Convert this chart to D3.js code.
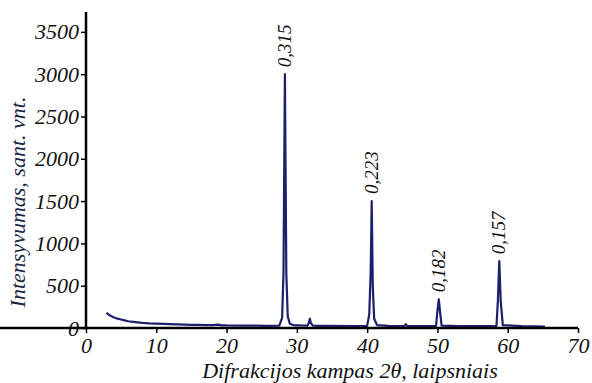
<!DOCTYPE html>
<html><head><meta charset="utf-8">
<script src="https://cdn.jsdelivr.net/npm/d3@7"></script>
<style>html,body{margin:0;padding:0;background:#fff;}svg{display:block;}
text{font-family:"Liberation Serif","Times New Roman",serif;font-style:italic;}</style>
</head><body><div id="chart"></div>
<script>
// ---- data ----
const angle = [2.9,3.2,3.6,4.0,4.5,5.0,5.5,6.0,7.0,8.0,9.0,10.0,11.0,12.0,13.0,14.0,15.0,16.0,17.0,18.0,18.8,19.0,19.3,20.0,22.0,24.0,26.0,27.5,27.9,28.1,28.3,28.5,28.7,29.0,29.5,30.5,31.5,31.7,31.85,32.0,32.3,33.0,35.0,38.0,40.0,40.3,40.5,40.65,40.8,41.0,41.4,43.0,45.3,45.5,45.7,48.0,49.8,50.0,50.2,50.4,50.6,53.0,56.0,58.4,58.6,58.8,59.0,59.3,62.0,65.3];
const intensity = [180,160,140,125,110,100,90,80,70,60,55,52,48,45,42,40,38,36,34,33,40,36,32,30,28,27,26,28,120,650,3000,650,140,50,35,30,28,60,110,55,28,25,24,23,25,160,650,1500,500,110,35,24,23,45,23,22,26,200,340,170,28,22,22,26,320,790,320,35,22,18];
const peakPos = [28.3, 40.65, 50.2, 58.8];
const peakVal = [3000, 1500, 340, 790];
const peakLabels = ["0,315", "0,223", "0,182", "0,157"];
const xTicks = [0,10,20,30,40,50,60,70];
const yTicks = [0,500,1000,1500,2000,2500,3000,3500];
const xTitle = "Difrakcijos kampas 2θ, laipsniais";
const yTitle = "Intensyvumas, sant. vnt.";

const W = 592, H = 383;
const svg = d3.select("#chart").append("svg").attr("width", W).attr("height", H)
  .attr("font-family", "Liberation Serif");
const x = d3.scaleLinear().domain([0,70]).range([86,578]);
const y = d3.scaleLinear().domain([0,3735]).range([328,12]);

// spectrum line
const pts = angle.map((a,i)=>[a,intensity[i]]);
svg.append("path").datum(pts)
  .attr("fill","none").attr("stroke","#1e1e6e").attr("stroke-width",2.2)
  .attr("stroke-linejoin","round")
  .attr("d", d3.line().x(d=>x(d[0])).y(d=>y(d[1])));

// axes
const xAxis = svg.append("g").attr("transform","translate(0,328)")
  .call(d3.axisBottom(x).tickValues(xTicks).tickSize(5).tickPadding(4).tickFormat(d3.format("d")));
const yAxis = svg.append("g").attr("transform","translate(86,0)")
  .call(d3.axisLeft(y).tickValues(yTicks).tickSize(5).tickPadding(2).tickFormat(d3.format("d")));
[xAxis,yAxis].forEach(g=>{
  g.attr("font-family", null);
  g.select(".domain").attr("stroke","#000").attr("stroke-width",2.5);
  g.selectAll(".tick line").attr("stroke","#000").attr("stroke-width",1.5);
  g.selectAll("text").attr("fill","#111").style("font-size","22px");
});
yAxis.select(".domain").attr("d","M0,12V328");
xAxis.select(".domain").attr("d","M0,0H578");

// peak labels
svg.selectAll(".pk").data(peakPos).enter().append("text")
  .attr("transform",(d,i)=>`translate(${x(d)+6},${y(peakVal[i])-7}) rotate(-90)`)
  .attr("text-anchor","start")
  .style("font-size","19px")
  .attr("fill","#111")
  .text((d,i)=>peakLabels[i]);

// titles
svg.append("text").attr("x",350).attr("y",378).attr("text-anchor","middle")
  .style("font-size","22px")
  .attr("fill","#111").text(xTitle);
svg.append("text").attr("transform","translate(25,202) rotate(-90)").attr("text-anchor","middle")
  .style("font-size","22px")
  .attr("fill","#1c2440").text(yTitle);
</script></body></html>
